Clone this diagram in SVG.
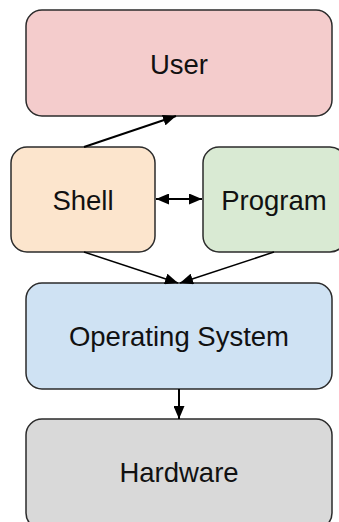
<svg xmlns="http://www.w3.org/2000/svg" width="339" height="522" viewBox="0 0 339 522">
  <defs>
    <style>
      .box { stroke: #2b2b2b; stroke-width: 1.5; }
      .label { font-family: "Liberation Sans", Arial, sans-serif; font-size: 27.5px; fill: #111; text-anchor: middle; }
      .edge { stroke: #000; fill: none; }
    </style>
    <marker id="head" viewBox="0 0 13 11" refX="13" refY="5.5" markerWidth="13" markerHeight="11" markerUnits="userSpaceOnUse" orient="auto-start-reverse">
      <path d="M0,0 L13,5.5 L0,11 Z" fill="#000"/>
    </marker>
  </defs>
  <rect width="339" height="522" fill="#ffffff"/>

  <g id="user">
    <rect class="box" x="26" y="10" width="306" height="106" rx="16" fill="#f4cccc"/>
    <text class="label" x="179" y="74">User</text>
  </g>
  <g id="shell">
    <rect class="box" x="11" y="147" width="144" height="105" rx="16" fill="#fce5cd"/>
    <text class="label" x="83" y="210">Shell</text>
  </g>
  <g id="program">
    <rect class="box" x="203" y="147" width="143" height="105" rx="16" fill="#d9ead3"/>
    <text class="label" x="274" y="210">Program</text>
  </g>
  <g id="os">
    <rect class="box" x="26" y="283" width="306" height="106" rx="16" fill="#cfe2f3"/>
    <text class="label" x="179" y="346">Operating System</text>
  </g>
  <g id="hardware">
    <rect class="box" x="26" y="419" width="306" height="110" rx="16" fill="#d9d9d9"/>
    <text class="label" x="179" y="482">Hardware</text>
  </g>

  <g id="connectors">
    <line class="edge" x1="84" y1="147" x2="176" y2="116" stroke-width="2" marker-end="url(#head)"/>
    <line class="edge" x1="156" y1="199" x2="202" y2="199" stroke-width="2" marker-start="url(#head)" marker-end="url(#head)"/>
    <line class="edge" x1="84" y1="252" x2="178" y2="283" stroke-width="1.5" marker-end="url(#head)"/>
    <line class="edge" x1="274" y1="252" x2="180" y2="283" stroke-width="1.5" marker-end="url(#head)"/>
    <line class="edge" x1="179" y1="389" x2="179" y2="419" stroke-width="2" marker-end="url(#head)"/>
  </g>
</svg>
